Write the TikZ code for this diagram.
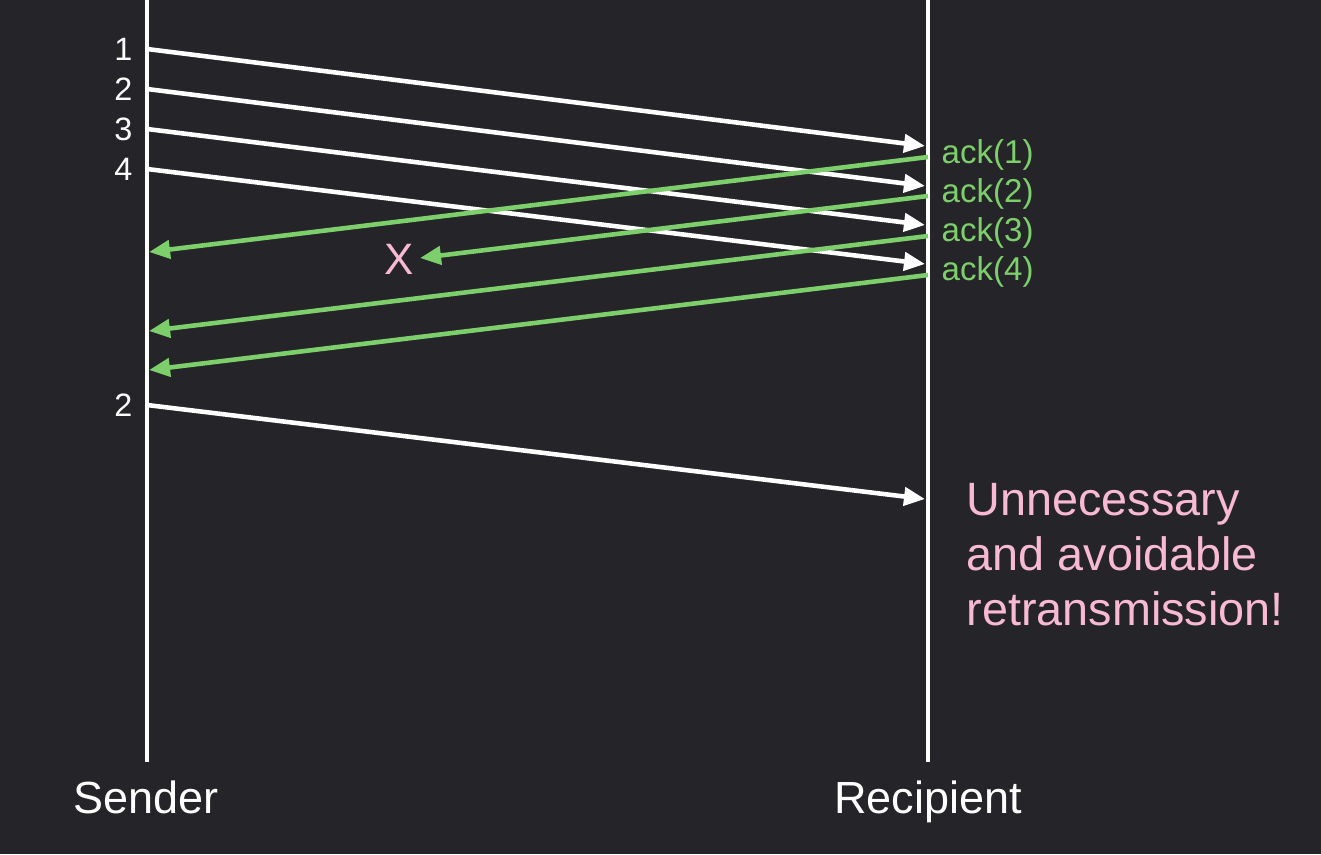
\documentclass[tikz,border=0pt]{standalone}
\usepackage{fontspec}
\setmainfont{Liberation Sans}
\usepackage{tikz}
\usepackage{xcolor}
\usetikzlibrary{arrows.meta}
\usetikzlibrary{positioning}

\definecolor{bgdark}{HTML}{252529}
\definecolor{ackgreen}{HTML}{7DCF6B}
\definecolor{notepink}{HTML}{F8B9D2}

\tikzset{
  timeline/.style={white, line width=1.4pt},
  packet/.style={white, line width=1.3pt, -{Triangle[length=0.21cm,width=0.18cm]}},
  ackline/.style={ackgreen, line width=1.3pt, -{Triangle[length=0.21cm,width=0.18cm]}},
  seqlabel/.style={white, anchor=east, inner sep=0pt, font=\fontsize{9.2}{10}\selectfont},
  acklabel/.style={ackgreen, anchor=west, inner sep=0pt, font=\fontsize{9.4}{10}\selectfont},
  hostlabel/.style={white, anchor=base, inner sep=0pt, font=\fontsize{12.8}{14}\selectfont}
}

\begin{document}
\begin{tikzpicture}[x=0.01cm, y=-0.01cm]
% Background
\fill[bgdark] (0,0) rectangle (1321,854);
\useasboundingbox (0,0) rectangle (1321,854);
% Time lines (sender and recipient)
\coordinate (stop) at (147,0);
\coordinate (sbot) at (147,762);
\coordinate (rtop) at (928,0);
\coordinate (rbot) at (928,762);
\draw[timeline] (stop) -- (sbot);
\draw[timeline] (rtop) -- (rbot);
\node[hostlabel] (sender) at (146,813) {Sender};
\node[hostlabel] (recipient) at (928,813) {Recipient};
% Packets sent
\coordinate (s1) at (147,49);
\coordinate (s2) at (147,89);
\coordinate (s3) at (147,129);
\coordinate (s4) at (147,169);
\coordinate (s5) at (147,405);
\coordinate (r1) at (925,146);
\coordinate (r2) at (925,186);
\coordinate (r3) at (925,225);
\coordinate (r4) at (925,264);
\coordinate (r5) at (925,499);
\node[seqlabel] (n1) at (133,49) {1};
\node[seqlabel] (n2) at (133,89) {2};
\node[seqlabel] (n3) at (133,129) {3};
\node[seqlabel] (n4) at (133,169) {4};
\node[seqlabel] (n5) at (133,405) {2};
\draw[packet] (s1) -- (r1);
\draw[packet] (s2) -- (r2);
\draw[packet] (s3) -- (r3);
\draw[packet] (s4) -- (r4);
\draw[packet] (s5) -- (r5);
% Acks
\coordinate (a1) at (928,157);
\coordinate (a2) at (928,196);
\coordinate (a3) at (928,236);
\coordinate (a4) at (928,275);
\coordinate (b1) at (149,252);
\coordinate (b2) at (420,258);
\coordinate (b3) at (149,331);
\coordinate (b4) at (149,370);
\node[acklabel] (ack1) at (941,155) {ack(1)};
\node[acklabel] (ack2) at (941,194) {ack(2)};
\node[acklabel] (ack3) at (941,233) {ack(3)};
\node[acklabel] (ack4) at (941,272) {ack(4)};
\draw[ackline] (a1) -- (b1);
\draw[ackline] (a2) -- (b2);
\draw[ackline] (a3) -- (b3);
\draw[ackline] (a4) -- (b4);
% Lost ack
\node[notepink, inner sep=0pt, font=\fontsize{12.5}{14}\selectfont] (lost) at (399,259) {X};
% Note
\node[notepink, anchor=north west, align=left, inner sep=0pt,
      font=\fontsize{13.3}{15.6}\selectfont] (note) at (966,483)
      {Unnecessary\\and avoidable\\retransmission!};
\end{tikzpicture}
\end{document}
